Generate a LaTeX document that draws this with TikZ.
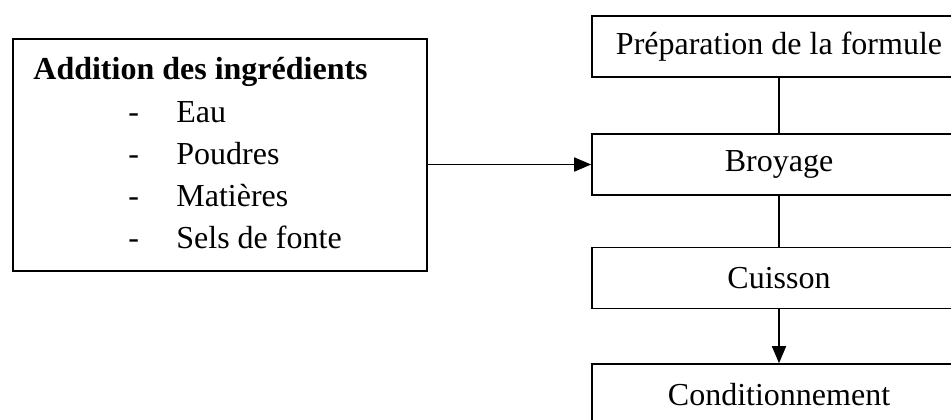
\documentclass[tikz,border=0pt]{standalone}
\usepackage{fontspec}
\setmainfont{Liberation Serif}
\usetikzlibrary{positioning,arrows.meta}

\begin{document}
\begin{tikzpicture}[
    x=1pt, y=1pt,
    stepbox/.style={draw, line width=0.8pt, minimum width=187pt, minimum height=30.5pt, inner sep=0pt, font=\fontsize{16}{19}\selectfont},
    link/.style={line width=0.8pt},
    flow/.style={line width=0.8pt, -{Triangle[length=8.5pt, width=7pt]}},
    item/.style={anchor=base west, inner sep=0pt, font=\fontsize{16}{19}\selectfont}
]
    \useasboundingbox (0,0) rectangle (475.5,-209.5);

    % --- Ingredients (left) ---
    \node[draw, line width=0.8pt, minimum width=207pt, minimum height=116pt, inner sep=0pt] (ingr) at (110,-77.5) {};
    \node[item, font=\fontsize{16}{19}\selectfont\bfseries] (title) at (16.5,-39.5) {Addition des ingrédients};
    \foreach \name/\txt [count=\i] in {eau/Eau, poudres/Poudres, matieres/Matières, sels/Sels de fonte} {
        \node[item] (dash\i) at (64,-40-21*\i) {-};
        \node[item] (\name) at (88,-40-21*\i) {\txt};
    }

    % --- Process steps (right) ---
    \node[stepbox] (prep) at (389.5,-23.25) {Préparation de la formule};
    \node[stepbox] (broy) at (389.5,-82.25) {Broyage};
    \node[stepbox] (cuis) at (389.5,-139) {Cuisson};
    \node[stepbox] (cond) at (389.5,-197.25) {Conditionnement};

    % --- Connectors ---
    \draw[link] (prep) -- (broy);
    \draw[link] (broy) -- (cuis);
    \draw[flow] (cuis) -- (cond);
    \draw[flow] (ingr.east |- broy) -- (broy.west);
\end{tikzpicture}
\end{document}
